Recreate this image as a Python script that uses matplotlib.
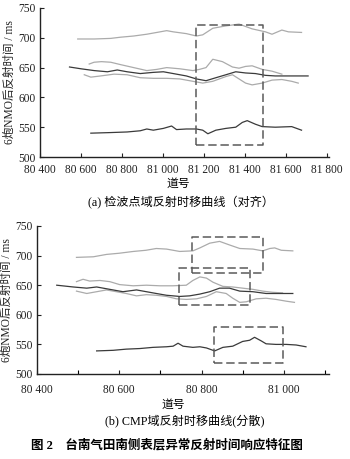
import matplotlib
matplotlib.use("Agg")
import matplotlib.pyplot as plt
from matplotlib.ticker import FixedLocator, FuncFormatter

# ---------------- data: panel (a) ----------------
a_top_x = [80584, 80664, 80745, 80793, 80857, 80921, 80970, 81018, 81050, 81114, 81163,
           81194, 81243, 81307, 81371, 81435, 81500, 81532, 81580, 81612, 81676]
a_top_y = [698, 698, 699, 701, 703, 706, 709, 712, 710, 707, 703,
           705, 716, 720, 723, 715, 710, 706, 713, 710, 709]

a_up_x = [80640, 80664, 80700, 80745, 80793, 80857, 80921, 80970, 81018, 81082, 81146,
          81178, 81210, 81243, 81290, 81339, 81371, 81403, 81435, 81484, 81532, 81580]
a_up_y = [656, 659, 660, 659, 655, 650, 645, 647, 650, 648, 645,
          647, 650, 664, 660, 651, 649, 652, 653, 647, 644, 639]

a_dk_x = [80544, 80600, 80664, 80729, 80777, 80825, 80889, 80953, 81002, 81050, 81114,
          81163, 81210, 81258, 81307, 81355, 81403, 81451, 81500, 81548, 81612, 81708]
a_dk_y = [651, 648, 645, 643, 646, 643, 640, 642, 643, 640, 636,
          631, 628, 633, 638, 643, 641, 640, 637, 636, 636, 636]

a_lo_x = [80616, 80648, 80696, 80761, 80825, 80889, 80953, 81018, 81082, 81146, 81194,
          81243, 81307, 81339, 81371, 81403, 81435, 81484, 81532, 81580, 81628, 81660]
a_lo_y = [638, 634, 636, 639, 638, 633, 632, 632, 631, 627, 624,
          627, 635, 638, 631, 624, 621, 624, 629, 630, 627, 624]

a_bot_x = [80648, 80745, 80825, 80889, 80921, 80953, 81002, 81042, 81066, 81114, 81163,
           81194, 81219, 81258, 81307, 81355, 81387, 81411, 81451, 81484, 81548, 81628, 81676]
a_bot_y = [540, 541, 542, 544, 547, 545, 548, 552, 546, 547, 547,
           545, 539, 545, 548, 550, 558, 561, 555, 551, 550, 551, 545]

a_box_x = [81160, 81490]
a_box_y = [520, 722]

# ---------------- data: panel (b) ----------------
b_top_x = [80496, 80537, 80569, 80600, 80634, 80665, 80690, 80715, 80747, 80779, 80796,
           80820, 80844, 80868, 80893, 80925, 80949, 80966, 80978, 80994, 81022]
b_top_y = [697, 698, 702, 704, 707, 709, 712, 711, 707, 708, 713,
           721, 724, 718, 712, 711, 708, 712, 713, 709, 708]

b_up_x = [80496, 80512, 80528, 80553, 80577, 80601, 80634, 80666, 80699, 80731, 80763,
          80779, 80796, 80812, 80828, 80852, 80876, 80900, 80925, 80949, 80973, 80997]
b_up_y = [656, 660, 657, 658, 656, 651, 649, 650, 649, 649, 650,
          658, 664, 662, 655, 648, 647, 645, 643, 640, 638, 637]

b_dk_x = [80448, 80488, 80521, 80545, 80577, 80609, 80642, 80666, 80690, 80715, 80747,
          80771, 80796, 80820, 80844, 80868, 80893, 80925, 80957, 80990, 81022]
b_dk_y = [650, 647, 645, 647, 643, 639, 642, 639, 636, 633, 631,
          632, 635, 639, 645, 645, 640, 639, 636, 636, 636]

b_lo_x = [80496, 80521, 80545, 80569, 80593, 80617, 80642, 80666, 80690, 80715, 80739,
          80763, 80788, 80812, 80836, 80860, 80876, 80893, 80909, 80933, 80957, 80981, 81006, 81026]
b_lo_y = [640, 636, 639, 642, 639, 636, 632, 634, 633, 631, 627,
          626, 627, 631, 639, 636, 628, 621, 622, 627, 628, 626, 623, 621]

b_bot_x = [80545, 80585, 80617, 80650, 80682, 80715, 80731, 80743, 80755, 80779, 80796,
           80812, 80832, 80852, 80876, 80900, 80917, 80929, 80945, 80957, 80981, 81006, 81030, 81054]
b_bot_y = [539, 540, 542, 543, 545, 546, 547, 552, 547, 545, 546,
           544, 539, 545, 547, 555, 557, 562, 556, 551, 550, 550, 549, 546]

b_box1_x = [80778, 80949]
b_box1_y = [670, 732]
b_box2_x = [80745, 80919]
b_box2_y = [617, 679]
b_box3_x = [80830, 80998]
b_box3_y = [518, 580]

y_ticks = [500, 550, 600, 650, 700, 750]
a_xticks = [80400, 80600, 80800, 81000, 81200, 81400, 81600, 81800]
b_xticks_major = [80400, 80600, 80800, 81000]
b_xticks_minor = [80500, 80700, 80900, 81100]

ylabel_text = "6炮NMO后反射时间 / ms"
xlabel_text = "道号"
cap_a = "(a) 检波点域反射时移曲线（对齐）"
cap_b = "(b) CMP域反射时移曲线(分散)"
fig_caption = "图 2    台南气田南侧表层异常反射时间响应特征图"

DARK = "#3a3a3a"
LIGHT = "#ababab"
BOXC = "#5a5a5a"
FAM = ["Liberation Serif", "Noto Sans CJK SC"]

plt.rcParams["font.family"] = FAM

fig = plt.figure(figsize=(3.5, 4.59), dpi=100)


def fmt(v, pos):
    s = f"{int(round(v)):d}"
    return s[:2] + " " + s[2:]


def style_axes(ax):
    for s in ("top", "right"):
        ax.spines[s].set_visible(False)
    for s in ("left", "bottom"):
        ax.spines[s].set_linewidth(1.0)
        ax.spines[s].set_color("#222222")
    ax.set_ylim(500, 750)
    ax.yaxis.set_major_locator(FixedLocator(y_ticks))
    ax.tick_params(axis="both", direction="in", length=3, width=0.8,
                   labelsize=8.3, colors="#222222")
    ax.tick_params(axis="x", pad=5)
    ax.tick_params(axis="y", pad=3)
    ax.xaxis.set_major_formatter(FuncFormatter(fmt))
    ax.set_ylabel(ylabel_text, fontsize=8.3, labelpad=2, color="#222222")


def box(ax, xs, ys):
    ax.plot([xs[0], xs[1], xs[1], xs[0], xs[0]],
            [ys[0], ys[0], ys[1], ys[1], ys[0]],
            color=BOXC, lw=1.1, ls=(0, (5.5, 2.5)))


# ---- panel (a) ----
ax1 = fig.add_axes([40 / 350, 1 - 157 / 459, 289 / 350, 149 / 459])
ax1.set_xlim(80400, 81810)
ax1.xaxis.set_major_locator(FixedLocator(a_xticks))
ax1.plot(a_top_x, a_top_y, color=LIGHT, lw=0.9)
ax1.plot(a_up_x, a_up_y, color=LIGHT, lw=0.9)
ax1.plot(a_lo_x, a_lo_y, color=LIGHT, lw=0.9)
ax1.plot(a_dk_x, a_dk_y, color=DARK, lw=0.9)
ax1.plot(a_bot_x, a_bot_y, color=DARK, lw=0.9)
box(ax1, a_box_x, a_box_y)
style_axes(ax1)

# ---- panel (b) ----
ax2 = fig.add_axes([37 / 350, 1 - 374 / 459, 292 / 350, 148 / 459])
ax2.set_xlim(80400, 81110)
ax2.xaxis.set_major_locator(FixedLocator(b_xticks_major))
ax2.xaxis.set_minor_locator(FixedLocator(b_xticks_minor))
ax2.plot(b_top_x, b_top_y, color=LIGHT, lw=0.9)
ax2.plot(b_up_x, b_up_y, color=LIGHT, lw=0.9)
ax2.plot(b_lo_x, b_lo_y, color=LIGHT, lw=0.9)
ax2.plot(b_dk_x, b_dk_y, color=DARK, lw=0.9)
ax2.plot(b_bot_x, b_bot_y, color=DARK, lw=0.9)
box(ax2, b_box1_x, b_box1_y)
box(ax2, b_box2_x, b_box2_y)
box(ax2, b_box3_x, b_box3_y)
style_axes(ax2)
ax2.tick_params(axis="x", which="minor", direction="in", length=3, width=0.8)
ax2.tick_params(axis="x", which="major", pad=7)

# ---- texts ----
fig.text(178 / 350, 1 - 184 / 459, xlabel_text, ha="center", va="center", fontsize=8.5)
fig.text(181 / 350, 1 - 203 / 459, cap_a, ha="center", va="center", fontsize=8.7)
fig.text(173 / 350, 1 - 405 / 459, xlabel_text, ha="center", va="center", fontsize=8.5)
fig.text(185 / 350, 1 - 421 / 459, cap_b, ha="center", va="center", fontsize=8.7)
fig.text(167 / 350, 1 - 445 / 459, fig_caption, ha="center", va="center",
         fontsize=9, fontweight="bold")

fig.savefig("out.png", dpi=100)
